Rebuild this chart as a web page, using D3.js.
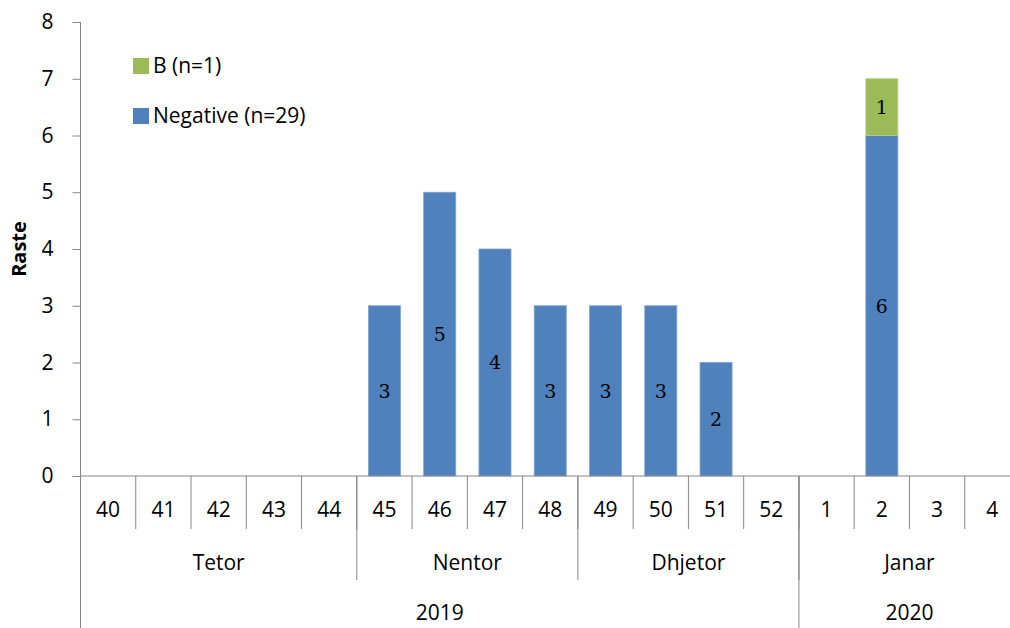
<!DOCTYPE html>
<html>
<head>
<meta charset="utf-8">
<script src="https://cdn.jsdelivr.net/npm/d3@7"></script>
<style>
  body { margin: 0; background: #fff; }
  svg { display: block; font-family: "Open Sans", sans-serif; }
</style>
</head>
<body>
<svg width="1010" height="628"></svg>
<script>
var weeks = ["40","41","42","43","44","45","46","47","48","49","50","51","52","1","2","3","4"];
var negative = [0,0,0,0,0,3,5,4,3,3,3,2,0,0,6,0,0];
var typeB =    [0,0,0,0,0,0,0,0,0,0,0,0,0,0,1,0,0];
var months = [
  {name: "Tetor", from: 0, to: 4},
  {name: "Nentor", from: 5, to: 8},
  {name: "Dhjetor", from: 9, to: 12},
  {name: "Janar", from: 13, to: 16}
];
var years = [
  {name: "2019", from: 0, to: 12},
  {name: "2020", from: 13, to: 16}
];
var seriesNames = ["Negative (n=29)", "B (n=1)"];
var colors = ["#4f81bd", "#9bbb59"];
var yTicks = [0,1,2,3,4,5,6,7,8];

var svg = d3.select("svg");
var plotLeft = 80.5, plotRight = 1020, plotTop = 22, plotBottom = 476;
var axisColor = "#868686";
var fontSize = "21px";

var x = d3.scaleBand().domain(d3.range(weeks.length)).range([plotLeft, plotRight]).padding(0);
var y = d3.scaleLinear().domain([0, 8]).range([plotBottom, plotTop]);
var barW = x.bandwidth() * 0.58;

// stacked data
var stackData = weeks.map(function(w, i) { return {i: i, neg: negative[i], b: typeB[i]}; });
var stack = d3.stack().keys(["neg", "b"])(stackData);

var g = svg.append("g");
stack.forEach(function(layer, k) {
  var nonZero = layer.filter(function(d) { return d[1] - d[0] > 0; });
  g.selectAll(".bar" + k)
    .data(nonZero)
    .enter().append("rect")
    .attr("x", function(d) { return x(d.data.i) + (x.bandwidth() - barW) / 2; })
    .attr("y", function(d) { return y(d[1]); })
    .attr("width", barW)
    .attr("height", function(d) { return y(d[0]) - y(d[1]); })
    .attr("fill", colors[k])
    .attr("stroke", k == 0 ? "#7fa3d3" : "#b9d18a")
    .attr("stroke-width", 0.8);

  g.selectAll(".lab" + k)
    .data(nonZero)
    .enter().append("text")
    .attr("x", function(d) { return x(d.data.i) + x.bandwidth() / 2; })
    .attr("y", function(d) { return y((d[0] + d[1]) / 2); })
    .attr("dy", "0.36em")
    .attr("text-anchor", "middle")
    .style("font-family", "'DejaVu Serif', serif")
    .style("font-size", "19px")
    .text(function(d) { return d[1] - d[0]; });
});

// y axis
var yAxis = svg.append("g")
  .attr("transform", "translate(" + plotLeft + ",0)")
  .call(d3.axisLeft(y).tickValues(yTicks).tickSize(8).tickPadding(19).tickSizeOuter(0));
yAxis.select(".domain").remove();
yAxis.selectAll("line").attr("stroke", axisColor);
yAxis.selectAll("text").style("font-size", fontSize).style("font-family", "'Open Sans', sans-serif").attr("fill", "#000");
svg.append("line").attr("x1", plotLeft).attr("x2", plotLeft).attr("y1", plotTop).attr("y2", 628)
  .attr("stroke", axisColor);

svg.append("text")
  .attr("transform", "translate(26," + ((plotTop + plotBottom) / 2) + ") rotate(-90)")
  .attr("text-anchor", "middle")
  .style("font-size", "20px")
  .style("font-weight", "bold")
  .text("Raste");

// x axis line
svg.append("line").attr("x1", plotLeft).attr("x2", plotRight).attr("y1", plotBottom).attr("y2", plotBottom)
  .attr("stroke", axisColor);

// week level
weeks.forEach(function(w, i) {
  if (i > 0) {
    svg.append("line").attr("x1", x(i)).attr("x2", x(i)).attr("y1", plotBottom).attr("y2", 529)
      .attr("stroke", axisColor);
  }
  svg.append("text")
    .attr("x", x(i) + x.bandwidth() / 2)
    .attr("y", 510)
    .attr("dy", "0.35em")
    .attr("text-anchor", "middle")
    .style("font-size", fontSize)
    .text(w);
});

// month level
months.forEach(function(m) {
  if (m.from > 0) {
    svg.append("line").attr("x1", x(m.from)).attr("x2", x(m.from)).attr("y1", plotBottom).attr("y2", 580)
      .attr("stroke", axisColor);
  }
  svg.append("text")
    .attr("x", (x(m.from) + x(m.to) + x.bandwidth()) / 2)
    .attr("y", 563)
    .attr("dy", "0.35em")
    .attr("text-anchor", "middle")
    .style("font-size", fontSize)
    .text(m.name);
});

// year level
years.forEach(function(yr) {
  if (yr.from > 0) {
    svg.append("line").attr("x1", x(yr.from)).attr("x2", x(yr.from)).attr("y1", plotBottom).attr("y2", 628)
      .attr("stroke", axisColor);
  }
  svg.append("text")
    .attr("x", (x(yr.from) + x(yr.to) + x.bandwidth()) / 2)
    .attr("y", 613)
    .attr("dy", "0.35em")
    .attr("text-anchor", "middle")
    .style("font-size", fontSize)
    .text(yr.name);
});

// legend (B on top)
var legendItems = [{name: seriesNames[1], color: colors[1]}, {name: seriesNames[0], color: colors[0]}];
var legend = svg.selectAll(".legend").data(legendItems).enter().append("g")
  .attr("transform", function(d, i) { return "translate(133," + (66 + i * 50) + ")"; });
legend.append("rect").attr("x", 0).attr("y", -8).attr("width", 16).attr("height", 16)
  .attr("fill", function(d) { return d.color; });
legend.append("text").attr("x", 20).attr("dy", "0.35em")
  .style("font-size", fontSize)
  .text(function(d) { return d.name; });
</script>
</body>
</html>
